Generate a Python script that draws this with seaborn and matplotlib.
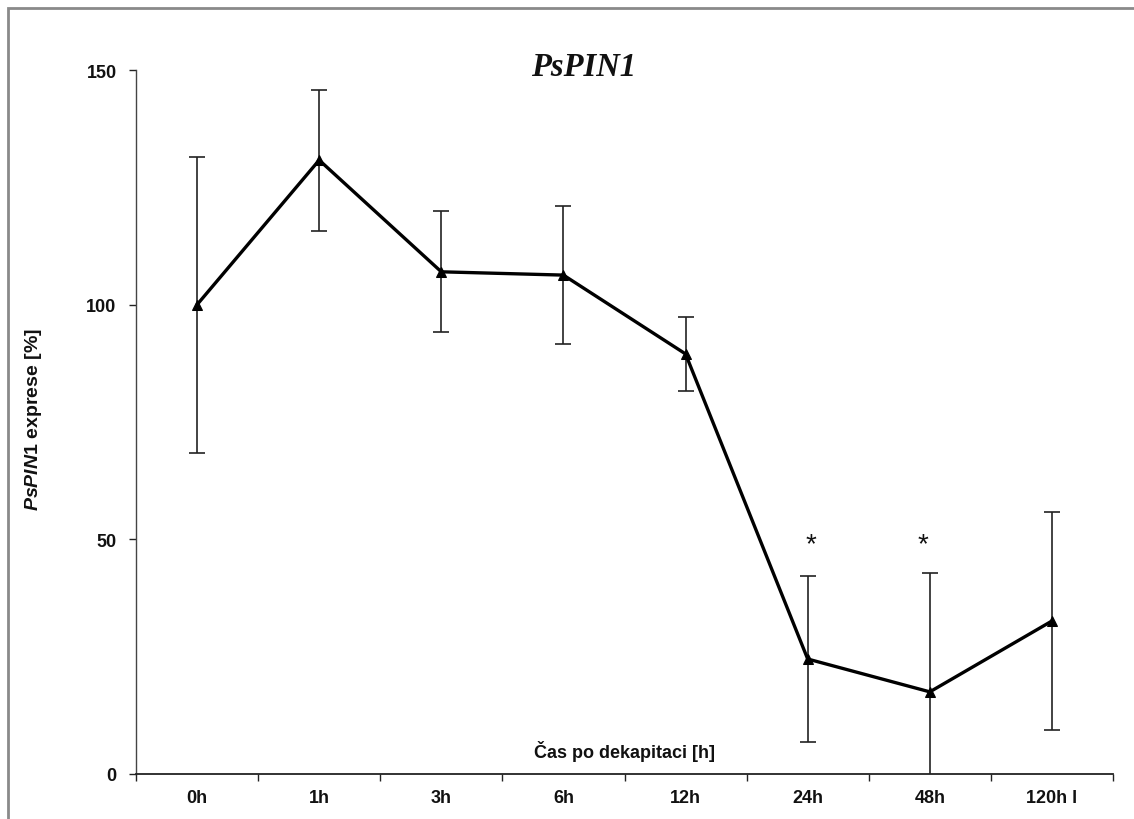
import matplotlib
matplotlib.use("Agg")
import matplotlib.pyplot as plt
import seaborn as sns
import pandas as pd
from matplotlib.patches import Rectangle

# Relative PsPIN1 expression after decapitation
time_labels = ["0h", "1h", "3h", "6h", "12h", "24h", "48h", "120h l"]
expression = [100.0, 130.8, 107.0, 106.3, 89.5, 24.5, 17.5, 32.6]
error = [31.5, 15.0, 12.9, 14.7, 7.8, 17.6, 25.3, 23.2]
significant = ["24h", "48h"]

sns.set_theme(style="white")
plt.rcParams["font.family"] = ["Liberation Sans", "DejaVu Sans"]
plt.rcParams["mathtext.fontset"] = "custom"
plt.rcParams["mathtext.bfit"] = "Liberation Sans:italic:bold"
plt.rcParams["mathtext.bf"] = "Liberation Sans:bold"

df = pd.DataFrame({"pos": range(len(time_labels)), "expr": expression, "err": error})

fig = plt.figure(figsize=(11.34, 8.2), dpi=100)
W, H = 1134, 820
ax = fig.add_axes([136 / W, 1 - 775 / H, (1113 - 136) / W, (775 - 71) / H])

# error bars under the line
ax.errorbar(df["pos"], df["expr"], yerr=df["err"], fmt="none", ecolor="#222222",
            elinewidth=1.2, capsize=6, capthick=1.2, zorder=2)
sns.lineplot(data=df, x="pos", y="expr", ax=ax, color="black", linewidth=2.4,
             marker="^", markersize=7.5, markeredgecolor="black", zorder=3)

ax.set_xlim(-0.5, len(time_labels) - 0.5)
ax.set_ylim(0, 150)

# category boundaries as major ticks, labels on minor ticks at centres
ax.set_xticks([i - 0.5 for i in range(len(time_labels) + 1)])
ax.set_xticklabels([])
ax.set_xticks(range(len(time_labels)), minor=True)
ax.set_xticklabels(time_labels, minor=True, fontsize=13, fontweight="bold")
ax.tick_params(axis="x", which="major", direction="out", length=5, width=1, color="#222222", bottom=True)
ax.tick_params(axis="x", which="minor", length=0, pad=11)
ax.set_yticks([0, 50, 100, 150])
ax.set_yticklabels(["0", "50", "100", "150"], fontsize=13, fontweight="bold")
ax.tick_params(axis="y", direction="out", length=5, width=1, color="#222222", left=True, pad=9)
for lbl in ax.get_xticklabels(minor=True) + ax.get_yticklabels():
    lbl.set_color("#111111")

for side in ["top", "right"]:
    ax.spines[side].set_visible(False)
ax.spines["left"].set_color("#444444")
ax.spines["left"].set_linewidth(1.0)
ax.spines["bottom"].set_color("#222222")
ax.spines["bottom"].set_linewidth(1.3)

ax.set_xlabel("")
ax.set_ylabel(r"$\mathbfit{PsPIN}$$\mathbf{1}$ exprese [%]", fontsize=14, fontweight="bold",
              color="#111111")
ax.yaxis.set_label_coords(-0.094, 0.505)
ax.text(0.5, 0.033, "Čas po dekapitaci [h]", transform=ax.transAxes, ha="center", va="center",
        fontsize=13, fontweight="bold", color="#111111")

# significance marks
for lab, dx in zip(significant, [0.03, -0.06]):
    i = time_labels.index(lab)
    ax.text(i + dx, 49.0, "*", ha="center", va="center", fontsize=20, color="#111111")

fig.text(584 / W, 1 - 68 / H, "PsPIN1", ha="center", va="center", fontsize=23.5,
         fontweight="bold", fontstyle="italic", family="Liberation Serif", color="#111111")

# outer frame
fig.patches.append(Rectangle((8 / W, -0.05), 1.2, 1 - 9 / H + 0.05, transform=fig.transFigure,
                             fill=False, edgecolor="#8a8a8a", linewidth=2))

fig.savefig("out.png", dpi=100)
